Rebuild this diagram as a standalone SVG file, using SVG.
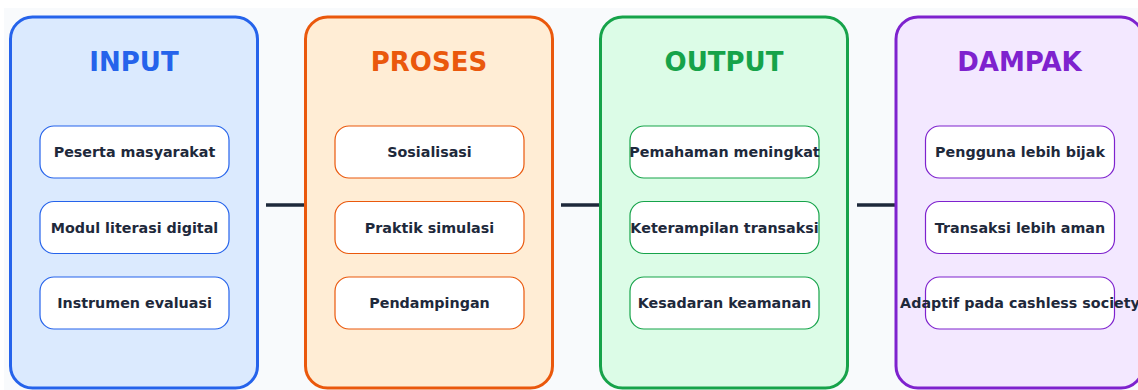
<svg xmlns="http://www.w3.org/2000/svg" width="1138" height="390" viewBox="0 0 1138 390">
  <style>
    .panel { stroke-width: 3; }
    .title { font-family: "DejaVu Sans", "Liberation Sans", sans-serif; font-weight: bold; font-size: 26px; text-anchor: middle; }
    .item rect { fill: #ffffff; stroke-width: 1.2; }
    .item text { font-family: "DejaVu Sans", "Liberation Sans", sans-serif; font-weight: bold; font-size: 14.3px; fill: #1e293b; text-anchor: middle; dominant-baseline: central; }
    .link { stroke: #1e293b; stroke-width: 3.5; fill: none; }
    .input .panel { fill: #dbeafe; stroke: #2563eb; } .input .title { fill: #2563eb; } .input .item rect { stroke: #2563eb; }
    .proses .panel { fill: #ffedd5; stroke: #ea580c; } .proses .title { fill: #ea580c; } .proses .item rect { stroke: #ea580c; }
    .output .panel { fill: #dcfce7; stroke: #16a34a; } .output .title { fill: #16a34a; } .output .item rect { stroke: #16a34a; }
    .dampak .panel { fill: #f3e8ff; stroke: #7e22ce; } .dampak .title { fill: #7e22ce; } .dampak .item rect { stroke: #7e22ce; }
  </style>

  <rect x="0" y="0" width="1138" height="390" fill="#ffffff"/>
  <rect x="4" y="8" width="1134" height="382" fill="#f8fafc"/>

  <!-- links between stages -->
  <g id="connectors">
    <line class="link" x1="266" y1="205" x2="306" y2="205"/>
    <line class="link" x1="561" y1="205" x2="601" y2="205"/>
    <line class="link" x1="857" y1="205" x2="897" y2="205"/>
  </g>

  <g id="stage-input" class="input">
    <rect class="panel" x="10.5" y="17" width="247" height="371" rx="22"/>
    <text class="title" x="134" y="71">INPUT</text>
    <g id="input-1" class="item"><rect x="40" y="126" width="189" height="52" rx="14"/><text x="134.5" y="152">Peserta masyarakat</text></g>
    <g id="input-2" class="item"><rect x="40" y="201.5" width="189" height="52" rx="14"/><text x="134.5" y="227.5">Modul literasi digital</text></g>
    <g id="input-3" class="item"><rect x="40" y="277" width="189" height="52" rx="14"/><text x="134.5" y="303">Instrumen evaluasi</text></g>
  </g>

  <g id="stage-proses" class="proses">
    <rect class="panel" x="305.5" y="17" width="247" height="371" rx="22"/>
    <text class="title" x="429" y="71">PROSES</text>
    <g id="proses-1" class="item"><rect x="335" y="126" width="189" height="52" rx="14"/><text x="429.5" y="152">Sosialisasi</text></g>
    <g id="proses-2" class="item"><rect x="335" y="201.5" width="189" height="52" rx="14"/><text x="429.5" y="227.5">Praktik simulasi</text></g>
    <g id="proses-3" class="item"><rect x="335" y="277" width="189" height="52" rx="14"/><text x="429.5" y="303">Pendampingan</text></g>
  </g>

  <g id="stage-output" class="output">
    <rect class="panel" x="600.5" y="17" width="247" height="371" rx="22"/>
    <text class="title" x="724" y="71">OUTPUT</text>
    <g id="output-1" class="item"><rect x="630" y="126" width="189" height="52" rx="14"/><text x="724.5" y="152">Pemahaman meningkat</text></g>
    <g id="output-2" class="item"><rect x="630" y="201.5" width="189" height="52" rx="14"/><text x="724.5" y="227.5">Keterampilan transaksi</text></g>
    <g id="output-3" class="item"><rect x="630" y="277" width="189" height="52" rx="14"/><text x="724.5" y="303">Kesadaran keamanan</text></g>
  </g>

  <g id="stage-dampak" class="dampak">
    <rect class="panel" x="896" y="17" width="247" height="371" rx="22"/>
    <text class="title" x="1019.5" y="71">DAMPAK</text>
    <g id="dampak-1" class="item"><rect x="925.5" y="126" width="189" height="52" rx="14"/><text x="1020" y="152">Pengguna lebih bijak</text></g>
    <g id="dampak-2" class="item"><rect x="925.5" y="201.5" width="189" height="52" rx="14"/><text x="1020" y="227.5">Transaksi lebih aman</text></g>
    <g id="dampak-3" class="item"><rect x="925.5" y="277" width="189" height="52" rx="14"/><text x="1020" y="303">Adaptif pada cashless society</text></g>
  </g>
</svg>
